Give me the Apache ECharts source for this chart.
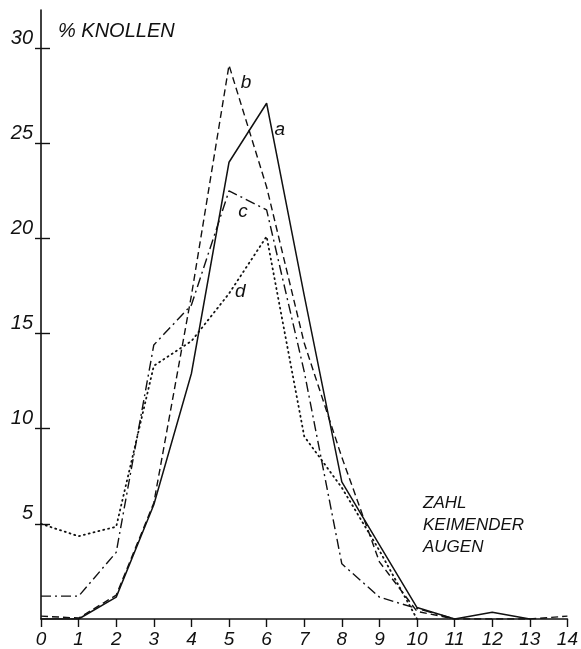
<!DOCTYPE html>
<html>
<head>
<meta charset="utf-8">
<script src="https://cdn.jsdelivr.net/npm/echarts@6/dist/echarts.min.js"></script>
<style>
  html, body { margin: 0; padding: 0; background: #fff; }
  #chart { width: 581px; height: 649px; }
</style>
</head>
<body>
<div id="chart"></div>
<script>
// Zahl keimender Augen 0..14
var augen = [0, 1, 2, 3, 4, 5, 6, 7, 8, 9, 10, 11, 12, 13, 14];
var serieA = [0, 0, 1.15, 6.0, 12.9, 24.0, 27.1, 17.0, 7.2, 3.9, 0.6, 0, 0.35, 0, null];
var serieB = [0.15, 0.05, 1.25, 6.1, 17.0, 29.1, 22.7, 14.5, 8.5, 3.0, 0.4, 0, 0, 0, 0.15];
var serieC = [1.2, 1.2, 3.5, 14.4, 16.5, 22.5, 21.5, 13.0, 2.9, 1.15, 0.55, 0, null, null, null];
var serieD = [5.0, 4.35, 4.85, 13.3, 14.6, 17.1, 20.1, 9.6, 6.9, 3.6, 0, null, null, null, null];
var yTicks = [5, 10, 15, 20, 25, 30];

var ink = '#111';
var font = 'Liberation Sans';

function pairs(vals) {
  return augen.map(function (x, i) { return [x, vals[i]]; });
}

function lineSerie(name, vals, type, dash, width, lbl) {
  return {
    name: name,
    type: 'line',
    data: pairs(vals),
    symbol: 'none',
    silent: true,
    connectNulls: false,
    lineStyle: { color: ink, width: width, type: dash, cap: type === 'dot' ? 'round' : 'butt' },
    markPoint: {
      symbol: 'circle',
      symbolSize: 1,
      itemStyle: { color: 'rgba(0,0,0,0)' },
      label: {
        show: true, position: 'inside', color: ink,
        fontFamily: font, fontStyle: 'italic', fontSize: 19,
        formatter: name
      },
      data: [{ coord: lbl }]
    }
  };
}

var chart = echarts.init(document.getElementById('chart'), null, { renderer: 'canvas' });
chart.setOption({
  animation: false,
  backgroundColor: '#fff',
  grid: { left: 41, right: 6, top: 10, bottom: 28 },
  xAxis: {
    type: 'value', min: 0, max: 14, interval: 1,
    axisLine: { show: true, lineStyle: { color: ink, width: 1.6 } },
    axisTick: { show: true, length: 8, lineStyle: { color: ink, width: 1.4 } },
    axisLabel: {
      color: ink, fontFamily: font, fontStyle: 'italic', fontSize: 19, margin: 11
    },
    splitLine: { show: false }
  },
  yAxis: [{
    type: 'value', min: 0, max: 32,
    axisLine: { show: true, lineStyle: { color: ink, width: 1.6 } },
    axisTick: { show: true, length: 6, customValues: yTicks, lineStyle: { color: ink, width: 1.4 } },
    axisLabel: {
      customValues: yTicks,
      color: ink, fontFamily: font, fontStyle: 'italic', fontSize: 20,
      margin: 8, verticalAlign: 'bottom'
    },
    splitLine: { show: false }
  }, {
    type: 'value', min: 0, max: 32, position: 'left',
    axisLine: { show: false },
    axisTick: { show: true, inside: true, length: 9, customValues: yTicks, lineStyle: { color: ink, width: 1.4 } },
    axisLabel: { show: false },
    splitLine: { show: false }
  }],
  graphic: [
    {
      type: 'text', left: 58, top: 21,
      style: { text: '% KNOLLEN', fill: ink, font: 'italic 20px "Liberation Sans"' }
    },
    {
      type: 'text', left: 423, top: 492,
      style: {
        text: 'ZAHL\nKEIMENDER\nAUGEN', fill: ink, lineHeight: 22,
        font: 'italic 17px "Liberation Sans"'
      }
    }
  ],
  series: [
    lineSerie('a', serieA, 'solid', 'solid', 1.5, [6.35, 25.7]),
    lineSerie('b', serieB, 'dash', [7, 4], 1.4, [5.45, 28.2]),
    lineSerie('c', serieC, 'dashdot', [10, 4, 2, 4], 1.4, [5.37, 21.4]),
    lineSerie('d', serieD, 'dot', [1, 4], 1.8, [5.3, 17.2])
  ]
});
</script>
</body>
</html>
